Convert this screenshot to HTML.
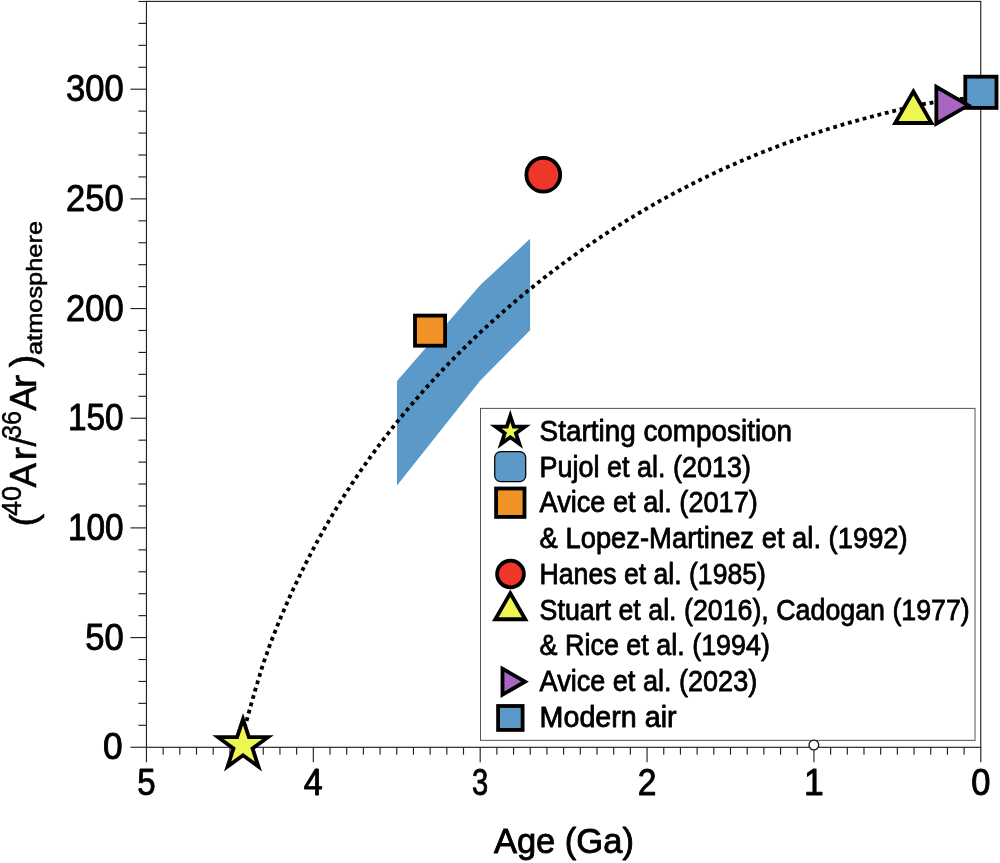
<!DOCTYPE html>
<html><head><meta charset="utf-8"><title>Chart</title>
<style>html,body{margin:0;padding:0;background:#fff}body{width:1000px;height:863px;overflow:hidden;font-family:"Liberation Sans",sans-serif}</style>
</head><body>
<svg width="1000" height="863" viewBox="0 0 1000 863" style="display:block;will-change:transform">
<rect width="1000" height="863" fill="#fff"/>
<polygon fill="#5b9ac8" points="397.0,381.0 480.3,285.1 530.1,238.8 530.1,330.3 480.3,380.6 397.0,485.6"/>
<g stroke="#222" stroke-width="1.15" fill="none">
<rect x="146.45" y="1.4" width="834.3" height="745.9"/>
<line x1="130.45" x2="146.45" y1="747.25" y2="747.25"/>
<line x1="138.45" x2="146.45" y1="725.32" y2="725.32"/>
<line x1="138.45" x2="146.45" y1="703.38" y2="703.38"/>
<line x1="138.45" x2="146.45" y1="681.45" y2="681.45"/>
<line x1="138.45" x2="146.45" y1="659.51" y2="659.51"/>
<line x1="130.45" x2="146.45" y1="637.58" y2="637.58"/>
<line x1="138.45" x2="146.45" y1="615.64" y2="615.64"/>
<line x1="138.45" x2="146.45" y1="593.71" y2="593.71"/>
<line x1="138.45" x2="146.45" y1="571.77" y2="571.77"/>
<line x1="138.45" x2="146.45" y1="549.84" y2="549.84"/>
<line x1="130.45" x2="146.45" y1="527.90" y2="527.90"/>
<line x1="138.45" x2="146.45" y1="505.97" y2="505.97"/>
<line x1="138.45" x2="146.45" y1="484.03" y2="484.03"/>
<line x1="138.45" x2="146.45" y1="462.10" y2="462.10"/>
<line x1="138.45" x2="146.45" y1="440.16" y2="440.16"/>
<line x1="130.45" x2="146.45" y1="418.23" y2="418.23"/>
<line x1="138.45" x2="146.45" y1="396.29" y2="396.29"/>
<line x1="138.45" x2="146.45" y1="374.36" y2="374.36"/>
<line x1="138.45" x2="146.45" y1="352.42" y2="352.42"/>
<line x1="138.45" x2="146.45" y1="330.49" y2="330.49"/>
<line x1="130.45" x2="146.45" y1="308.55" y2="308.55"/>
<line x1="138.45" x2="146.45" y1="286.62" y2="286.62"/>
<line x1="138.45" x2="146.45" y1="264.68" y2="264.68"/>
<line x1="138.45" x2="146.45" y1="242.75" y2="242.75"/>
<line x1="138.45" x2="146.45" y1="220.81" y2="220.81"/>
<line x1="130.45" x2="146.45" y1="198.88" y2="198.88"/>
<line x1="138.45" x2="146.45" y1="176.94" y2="176.94"/>
<line x1="138.45" x2="146.45" y1="155.01" y2="155.01"/>
<line x1="138.45" x2="146.45" y1="133.07" y2="133.07"/>
<line x1="138.45" x2="146.45" y1="111.14" y2="111.14"/>
<line x1="130.45" x2="146.45" y1="89.20" y2="89.20"/>
<line x1="138.45" x2="146.45" y1="67.27" y2="67.27"/>
<line x1="138.45" x2="146.45" y1="45.33" y2="45.33"/>
<line x1="138.45" x2="146.45" y1="23.40" y2="23.40"/>
<line x1="138.45" x2="146.45" y1="1.46" y2="1.46"/>
<line x1="980.80" x2="980.80" y1="747.25" y2="762.25"/>
<line x1="964.11" x2="964.11" y1="747.25" y2="754.75"/>
<line x1="947.43" x2="947.43" y1="747.25" y2="754.75"/>
<line x1="930.74" x2="930.74" y1="747.25" y2="754.75"/>
<line x1="914.05" x2="914.05" y1="747.25" y2="754.75"/>
<line x1="897.37" x2="897.37" y1="747.25" y2="754.75"/>
<line x1="880.68" x2="880.68" y1="747.25" y2="754.75"/>
<line x1="863.99" x2="863.99" y1="747.25" y2="754.75"/>
<line x1="847.30" x2="847.30" y1="747.25" y2="754.75"/>
<line x1="830.62" x2="830.62" y1="747.25" y2="754.75"/>
<line x1="813.93" x2="813.93" y1="747.25" y2="762.25"/>
<line x1="797.24" x2="797.24" y1="747.25" y2="754.75"/>
<line x1="780.56" x2="780.56" y1="747.25" y2="754.75"/>
<line x1="763.87" x2="763.87" y1="747.25" y2="754.75"/>
<line x1="747.18" x2="747.18" y1="747.25" y2="754.75"/>
<line x1="730.49" x2="730.49" y1="747.25" y2="754.75"/>
<line x1="713.81" x2="713.81" y1="747.25" y2="754.75"/>
<line x1="697.12" x2="697.12" y1="747.25" y2="754.75"/>
<line x1="680.43" x2="680.43" y1="747.25" y2="754.75"/>
<line x1="663.75" x2="663.75" y1="747.25" y2="754.75"/>
<line x1="647.06" x2="647.06" y1="747.25" y2="762.25"/>
<line x1="630.37" x2="630.37" y1="747.25" y2="754.75"/>
<line x1="613.69" x2="613.69" y1="747.25" y2="754.75"/>
<line x1="597.00" x2="597.00" y1="747.25" y2="754.75"/>
<line x1="580.31" x2="580.31" y1="747.25" y2="754.75"/>
<line x1="563.62" x2="563.62" y1="747.25" y2="754.75"/>
<line x1="546.94" x2="546.94" y1="747.25" y2="754.75"/>
<line x1="530.25" x2="530.25" y1="747.25" y2="754.75"/>
<line x1="513.56" x2="513.56" y1="747.25" y2="754.75"/>
<line x1="496.88" x2="496.88" y1="747.25" y2="754.75"/>
<line x1="480.19" x2="480.19" y1="747.25" y2="762.25"/>
<line x1="463.50" x2="463.50" y1="747.25" y2="754.75"/>
<line x1="446.82" x2="446.82" y1="747.25" y2="754.75"/>
<line x1="430.13" x2="430.13" y1="747.25" y2="754.75"/>
<line x1="413.44" x2="413.44" y1="747.25" y2="754.75"/>
<line x1="396.75" x2="396.75" y1="747.25" y2="754.75"/>
<line x1="380.07" x2="380.07" y1="747.25" y2="754.75"/>
<line x1="363.38" x2="363.38" y1="747.25" y2="754.75"/>
<line x1="346.69" x2="346.69" y1="747.25" y2="754.75"/>
<line x1="330.01" x2="330.01" y1="747.25" y2="754.75"/>
<line x1="313.32" x2="313.32" y1="747.25" y2="762.25"/>
<line x1="296.63" x2="296.63" y1="747.25" y2="754.75"/>
<line x1="279.95" x2="279.95" y1="747.25" y2="754.75"/>
<line x1="263.26" x2="263.26" y1="747.25" y2="754.75"/>
<line x1="246.57" x2="246.57" y1="747.25" y2="754.75"/>
<line x1="229.88" x2="229.88" y1="747.25" y2="754.75"/>
<line x1="213.20" x2="213.20" y1="747.25" y2="754.75"/>
<line x1="196.51" x2="196.51" y1="747.25" y2="754.75"/>
<line x1="179.82" x2="179.82" y1="747.25" y2="754.75"/>
<line x1="163.14" x2="163.14" y1="747.25" y2="754.75"/>
<line x1="146.45" x2="146.45" y1="747.25" y2="762.25"/>
</g>
<rect x="480.5" y="408.4" width="494.5" height="331.95" fill="#fff" stroke="#555" stroke-width="1"/>
<circle cx="813.9" cy="745" r="4.85" fill="#fff" stroke="#1a1a1a" stroke-width="1.3"/>
<path d="M239.6,746.0 L240.3,743.5 L241.0,741.0 L241.7,738.4 L242.4,735.9 L243.1,733.4 L243.8,730.9 L244.5,728.3 L245.2,725.8 L245.9,723.3 L246.6,720.7 L247.3,718.2 L248.0,715.7 L248.7,713.1 L249.4,710.6 L250.1,708.1 L250.8,705.5 L251.5,703.0 L252.2,700.5 L253.0,697.9 L253.7,695.4 L254.4,692.9 L255.1,690.4 L255.9,687.8 L256.6,685.3 L257.4,682.8 L258.1,680.3 L258.9,677.8 L259.7,675.2 L260.4,672.7 L261.2,670.2 L262.0,667.7 L262.8,665.2 L263.7,662.7 L264.5,660.2 L265.3,657.8 L266.2,655.3 L267.1,652.8 L267.9,650.3 L268.8,647.9 L269.7,645.4 L270.6,642.9 L271.6,640.5 L272.5,638.0 L273.4,635.6 L274.4,633.1 L275.4,630.7 L276.3,628.2 L277.3,625.8 L278.3,623.4 L279.3,621.0 L280.3,618.5 L281.3,616.1 L282.3,613.7 L283.4,611.3 L284.4,608.9 L285.5,606.5 L286.5,604.1 L287.6,601.7 L288.6,599.3 L289.7,596.9 L290.8,594.5 L291.9,592.1 L293.0,589.7 L294.1,587.3 L295.2,584.9 L296.4,582.6 L297.5,580.2 L298.6,577.8 L299.8,575.5 L300.9,573.1 L302.1,570.7 L303.3,568.4 L304.4,566.0 L305.6,563.7 L306.8,561.3 L308.0,559.0 L309.2,556.7 L310.4,554.3 L311.7,552.0 L312.9,549.7 L314.1,547.4 L315.4,545.0 L316.6,542.7 L317.9,540.4 L319.1,538.1 L320.4,535.8 L321.7,533.5 L323.0,531.2 L324.3,528.9 L325.6,526.6 L326.9,524.4 L328.2,522.1 L329.5,519.8 L330.9,517.6 L332.2,515.3 L333.6,513.0 L334.9,510.8 L336.3,508.5 L337.6,506.3 L339.0,504.0 L340.4,501.8 L341.8,499.6 L343.2,497.4 L344.6,495.1 L346.0,492.9 L347.4,490.7 L348.9,488.5 L350.3,486.3 L351.7,484.1 L353.2,481.9 L354.6,479.7 L356.1,477.5 L357.6,475.4 L359.1,473.2 L360.5,471.0 L362.0,468.9 L363.5,466.7 L365.0,464.6 L366.6,462.4 L368.1,460.3 L369.6,458.1 L371.1,456.0 L372.7,453.9 L374.2,451.8 L375.8,449.6 L377.3,447.5 L378.9,445.4 L380.5,443.3 L382.1,441.2 L383.7,439.1 L385.2,437.1 L386.8,435.0 L388.5,432.9 L390.1,430.8 L391.7,428.8 L393.3,426.7 L395.0,424.6 L396.6,422.6 L398.2,420.6 L399.9,418.5 L401.6,416.5 L403.2,414.5 L404.9,412.4 L406.6,410.4 L408.3,408.4 L409.9,406.4 L411.6,404.4 L413.3,402.4 L415.1,400.4 L416.8,398.4 L418.5,396.4 L420.2,394.4 L422.0,392.5 L423.7,390.5 L425.4,388.5 L427.2,386.6 L429.0,384.6 L430.7,382.7 L432.5,380.8 L434.3,378.8 L436.1,376.9 L437.8,375.0 L439.6,373.1 L441.4,371.1 L443.2,369.2 L445.1,367.3 L446.9,365.4 L448.7,363.5 L450.5,361.7 L452.4,359.8 L454.2,357.9 L456.0,356.0 L457.9,354.2 L459.7,352.3 L461.6,350.5 L463.5,348.6 L465.3,346.8 L467.2,344.9 L469.1,343.1 L471.0,341.3 L472.9,339.4 L474.8,337.6 L476.7,335.8 L478.6,334.0 L480.5,332.2 L482.4,330.4 L484.4,328.6 L486.3,326.9 L488.2,325.1 L490.2,323.3 L492.1,321.5 L494.1,319.8 L496.0,318.0 L498.0,316.3 L500.0,314.5 L501.9,312.8 L503.9,311.1 L505.9,309.3 L507.9,307.6 L509.9,305.9 L511.9,304.2 L513.9,302.5 L515.9,300.8 L517.9,299.1 L519.9,297.4 L521.9,295.7 L523.9,294.0 L526.0,292.4 L528.0,290.7 L530.0,289.1 L532.1,287.4 L534.1,285.8 L536.2,284.1 L538.2,282.5 L540.3,280.9 L542.4,279.2 L544.4,277.6 L546.5,276.0 L548.6,274.4 L550.7,272.8 L552.8,271.2 L554.9,269.6 L557.0,268.0 L559.1,266.5 L561.2,264.9 L563.3,263.3 L565.4,261.8 L567.5,260.2 L569.7,258.7 L571.8,257.1 L573.9,255.6 L576.1,254.1 L578.2,252.5 L580.3,251.0 L582.5,249.5 L584.7,248.0 L586.8,246.5 L589.0,245.0 L591.1,243.5 L593.3,242.1 L595.5,240.6 L597.7,239.1 L599.9,237.7 L602.1,236.2 L604.2,234.8 L606.4,233.3 L608.6,231.9 L610.9,230.5 L613.1,229.1 L615.3,227.6 L617.5,226.2 L619.7,224.8 L621.9,223.4 L624.2,222.1 L626.4,220.7 L628.6,219.3 L630.9,217.9 L633.1,216.6 L635.4,215.2 L637.6,213.9 L639.9,212.5 L642.2,211.2 L644.4,209.9 L646.7,208.5 L649.0,207.2 L651.3,205.9 L653.5,204.6 L655.8,203.3 L658.1,202.0 L660.4,200.7 L662.7,199.5 L665.0,198.2 L667.3,196.9 L669.6,195.7 L671.9,194.4 L674.2,193.2 L676.6,192.0 L678.9,190.7 L681.2,189.5 L683.5,188.3 L685.9,187.1 L688.2,185.9 L690.5,184.7 L692.9,183.5 L695.2,182.3 L697.6,181.2 L699.9,180.0 L702.3,178.8 L704.7,177.7 L707.0,176.6 L709.4,175.4 L711.8,174.3 L714.1,173.2 L716.5,172.1 L718.9,170.9 L721.3,169.8 L723.7,168.7 L726.1,167.7 L728.5,166.6 L730.9,165.5 L733.3,164.5 L735.7,163.4 L738.1,162.3 L740.5,161.3 L742.9,160.3 L745.3,159.2 L747.7,158.2 L750.2,157.2 L752.6,156.2 L755.0,155.2 L757.4,154.2 L759.9,153.2 L762.3,152.3 L764.8,151.3 L767.2,150.3 L769.7,149.4 L772.1,148.4 L774.6,147.5 L777.0,146.6 L779.5,145.6 L781.9,144.7 L784.4,143.8 L786.9,142.9 L789.3,142.0 L791.8,141.1 L794.3,140.2 L796.8,139.4 L799.3,138.5 L801.7,137.7 L804.2,136.8 L806.7,136.0 L809.2,135.1 L811.7,134.3 L814.2,133.5 L816.7,132.7 L819.2,131.9 L821.7,131.1 L824.2,130.3 L826.7,129.5 L829.2,128.7 L831.7,127.9 L834.3,127.2 L836.8,126.4 L839.3,125.7 L841.8,124.9 L844.3,124.2 L846.9,123.5 L849.4,122.7 L851.9,122.0 L854.4,121.3 L857.0,120.6 L859.5,119.9 L862.0,119.2 L864.6,118.5 L867.1,117.8 L869.6,117.2 L872.2,116.5 L874.7,115.8 L877.3,115.2 L879.8,114.5 L882.4,113.9 L884.9,113.2 L887.5,112.6 L890.0,111.9 L892.6,111.3 L895.1,110.7 L897.7,110.1 L900.2,109.4 L902.8,108.8 L905.3,108.2 L907.9,107.6 L910.4,107.0 L913.0,106.4 L915.6,105.9 L918.1,105.3 L920.7,104.8 L923.3,104.2 L925.8,103.7 L928.4,103.3 L931.0,102.8 L933.6,102.3 L936.2,101.9 L938.8,101.5 L941.4,101.2 L944.0,100.8 L946.6,100.5 L949.2,100.1 L951.8,99.8 L954.4,99.6 L957.0,99.3 L959.6,99.0 L962.2,98.8 L964.9,98.6 L967.5,98.4 L970.1,98.2 L972.7,98.0 L975.4,97.8 L978.0,97.6 L980.6,97.4" fill="none" stroke="#000" stroke-width="3.82" stroke-dasharray="3.8225 3.8225" stroke-dashoffset="-3.13"/>
<rect x="965.3" y="76.7" width="31.2" height="31.2" fill="#5b9ac8" stroke="#000" stroke-width="3.82" stroke-linejoin="miter" stroke-miterlimit="10"/>
<polygon points="913.35,91.54 931.50,122.98 895.20,122.98" fill="#eef651" stroke="#000" stroke-width="3.82" stroke-linejoin="miter" stroke-miterlimit="10"/>
<polygon points="968.30,105.30 936.35,86.85 936.35,123.75" fill="#a966c0" stroke="#000" stroke-width="3.82" stroke-linejoin="miter" stroke-miterlimit="10"/>
<circle cx="543.3" cy="174.8" r="16.9" fill="#ee3629" stroke="#000" stroke-width="3.82" stroke-linejoin="miter" stroke-miterlimit="10"/>
<rect x="415.0" y="315.6" width="30.1" height="30.1" fill="#f09226" stroke="#000" stroke-width="3.82" stroke-linejoin="miter" stroke-miterlimit="10"/>
<polygon points="243.00,719.10 248.88,737.20 267.92,737.20 252.52,748.39 258.40,766.50 243.00,755.31 227.60,766.50 233.48,748.39 218.08,737.20 237.12,737.20" fill="#eef651" stroke="#000" stroke-width="3.82" stroke-linejoin="miter" stroke-miterlimit="10"/>
<polygon points="510.30,416.00 513.76,426.64 524.95,426.64 515.89,433.22 519.35,443.86 510.30,437.28 501.25,443.86 504.71,433.22 495.65,426.64 506.84,426.64" fill="#eef651" stroke="#000" stroke-width="3.82" stroke-linejoin="miter" stroke-miterlimit="10"/>
<rect x="494.7" y="451.6" width="31" height="30" rx="6" ry="6" fill="#5b9ac8" stroke="#000" stroke-width="1.25"/>
<rect x="496.1" y="488.5" width="28.4" height="28.4" fill="#f09226" stroke="#000" stroke-width="3.82" stroke-linejoin="miter" stroke-miterlimit="10"/>
<circle cx="510.5" cy="574" r="13.4" fill="#ee3629" stroke="#000" stroke-width="3.82" stroke-linejoin="miter" stroke-miterlimit="10"/>
<polygon points="510.30,593.28 525.30,619.26 495.30,619.26" fill="#eef651" stroke="#000" stroke-width="3.82" stroke-linejoin="miter" stroke-miterlimit="10"/>
<polygon points="525.01,681.70 502.49,668.70 502.49,694.70" fill="#a966c0" stroke="#000" stroke-width="3.82" stroke-linejoin="miter" stroke-miterlimit="10"/>
<rect x="498.1" y="706" width="24.5" height="23.9" fill="#5b9ac8" stroke="#000" stroke-width="3.82" stroke-linejoin="miter" stroke-miterlimit="10"/>
<g font-family="'Liberation Sans', sans-serif" fill="#000">
<text x="539.6" y="440.9" font-size="28.6" stroke="#000" stroke-width="0.8" stroke-linejoin="round" textLength="252.5" lengthAdjust="spacingAndGlyphs">Starting composition</text>
<text x="539.6" y="476.7" font-size="28.6" stroke="#000" stroke-width="0.8" stroke-linejoin="round" textLength="211.5" lengthAdjust="spacingAndGlyphs">Pujol et al. (2013)</text>
<text x="539.6" y="512.4" font-size="28.6" stroke="#000" stroke-width="0.8" stroke-linejoin="round" textLength="218.2" lengthAdjust="spacingAndGlyphs">Avice et al. (2017)</text>
<text x="539.6" y="548.1" font-size="28.6" stroke="#000" stroke-width="0.8" stroke-linejoin="round" textLength="368.1" lengthAdjust="spacingAndGlyphs">&amp; Lopez-Martinez et al. (1992)</text>
<text x="539.6" y="583.9" font-size="28.6" stroke="#000" stroke-width="0.8" stroke-linejoin="round" textLength="226.3" lengthAdjust="spacingAndGlyphs">Hanes et al. (1985)</text>
<text x="539.6" y="619.6" font-size="28.6" stroke="#000" stroke-width="0.8" stroke-linejoin="round" textLength="430.2" lengthAdjust="spacingAndGlyphs">Stuart et al. (2016), Cadogan (1977)</text>
<text x="539.6" y="655.4" font-size="28.6" stroke="#000" stroke-width="0.8" stroke-linejoin="round" textLength="230.4" lengthAdjust="spacingAndGlyphs">&amp; Rice et al. (1994)</text>
<text x="539.6" y="691.1" font-size="28.6" stroke="#000" stroke-width="0.8" stroke-linejoin="round" textLength="217.6" lengthAdjust="spacingAndGlyphs">Avice et al. (2023)</text>
<text x="539.6" y="726.9" font-size="28.6" stroke="#000" stroke-width="0.8" stroke-linejoin="round" textLength="137.0" lengthAdjust="spacingAndGlyphs">Modern air</text>
<text x="103.0" y="759.4" font-size="36.2" stroke="#000" stroke-width="0.9" stroke-linejoin="round" textLength="19.6" lengthAdjust="spacingAndGlyphs">0</text>
<text x="85.2" y="649.7" font-size="36.2" stroke="#000" stroke-width="0.9" stroke-linejoin="round" textLength="38.4" lengthAdjust="spacingAndGlyphs">50</text>
<text x="68.0" y="540.0" font-size="36.2" stroke="#000" stroke-width="0.9" stroke-linejoin="round" textLength="55.6" lengthAdjust="spacingAndGlyphs">100</text>
<text x="68.0" y="430.3" font-size="36.2" stroke="#000" stroke-width="0.9" stroke-linejoin="round" textLength="55.6" lengthAdjust="spacingAndGlyphs">150</text>
<text x="66.0" y="320.7" font-size="36.2" stroke="#000" stroke-width="0.9" stroke-linejoin="round" textLength="57.6" lengthAdjust="spacingAndGlyphs">200</text>
<text x="66.0" y="211.0" font-size="36.2" stroke="#000" stroke-width="0.9" stroke-linejoin="round" textLength="57.6" lengthAdjust="spacingAndGlyphs">250</text>
<text x="66.0" y="101.3" font-size="36.2" stroke="#000" stroke-width="0.9" stroke-linejoin="round" textLength="57.6" lengthAdjust="spacingAndGlyphs">300</text>
<text x="971.2" y="795.2" font-size="36.2" stroke="#000" stroke-width="0.9" stroke-linejoin="round" textLength="19.2" lengthAdjust="spacingAndGlyphs">0</text>
<text x="804.0" y="795.2" font-size="36.2" stroke="#000" stroke-width="0.9" stroke-linejoin="round" textLength="19.8" lengthAdjust="spacingAndGlyphs">1</text>
<text x="637.7" y="795.2" font-size="36.2" stroke="#000" stroke-width="0.9" stroke-linejoin="round" textLength="18.7" lengthAdjust="spacingAndGlyphs">2</text>
<text x="472.1" y="795.2" font-size="36.2" stroke="#000" stroke-width="0.9" stroke-linejoin="round" textLength="16.2" lengthAdjust="spacingAndGlyphs">3</text>
<text x="303.8" y="795.2" font-size="36.2" stroke="#000" stroke-width="0.9" stroke-linejoin="round" textLength="19.0" lengthAdjust="spacingAndGlyphs">4</text>
<text x="137.2" y="795.2" font-size="36.2" stroke="#000" stroke-width="0.9" stroke-linejoin="round" textLength="18.4" lengthAdjust="spacingAndGlyphs">5</text>
<text x="493.9" y="853" font-size="35.6" stroke="#000" stroke-width="0.9" stroke-linejoin="round" textLength="140.0" lengthAdjust="spacingAndGlyphs">Age (Ga)</text>
<g transform="translate(35.5,525) rotate(-90)">
<text x="-1.8" y="0" font-size="36" stroke="#000" stroke-width="0.5" stroke-linejoin="round" textLength="13" lengthAdjust="spacingAndGlyphs">(</text>
<text x="9.0" y="-14.8" font-size="26.8" stroke="#000" stroke-width="0.45" stroke-linejoin="round" textLength="30" lengthAdjust="spacingAndGlyphs">40</text>
<text x="37.4" y="0" font-size="36" stroke="#000" stroke-width="0.5" stroke-linejoin="round" textLength="24.5" lengthAdjust="spacingAndGlyphs">A</text>
<text x="64.2" y="0" font-size="36" stroke="#000" stroke-width="0.5" stroke-linejoin="round" textLength="14" lengthAdjust="spacingAndGlyphs">r</text>
<text x="78.6" y="0" font-size="36" stroke="#000" stroke-width="0.5" stroke-linejoin="round">/</text>
<text x="86.0" y="-14.8" font-size="26.8" stroke="#000" stroke-width="0.45" stroke-linejoin="round" textLength="28" lengthAdjust="spacingAndGlyphs">36</text>
<text x="114.2" y="0" font-size="36" stroke="#000" stroke-width="0.5" stroke-linejoin="round" textLength="24.5" lengthAdjust="spacingAndGlyphs">A</text>
<text x="136.6" y="0" font-size="36" stroke="#000" stroke-width="0.5" stroke-linejoin="round" textLength="14" lengthAdjust="spacingAndGlyphs">r</text>
<text x="157.6" y="0" font-size="36" stroke="#000" stroke-width="0.5" stroke-linejoin="round" textLength="13" lengthAdjust="spacingAndGlyphs">)</text>
<text x="170" y="6.3" font-size="22" stroke="#000" stroke-width="0.55" stroke-linejoin="round" textLength="134" lengthAdjust="spacingAndGlyphs">atmosphere</text>
</g>
</g>
</svg>
</body></html>
